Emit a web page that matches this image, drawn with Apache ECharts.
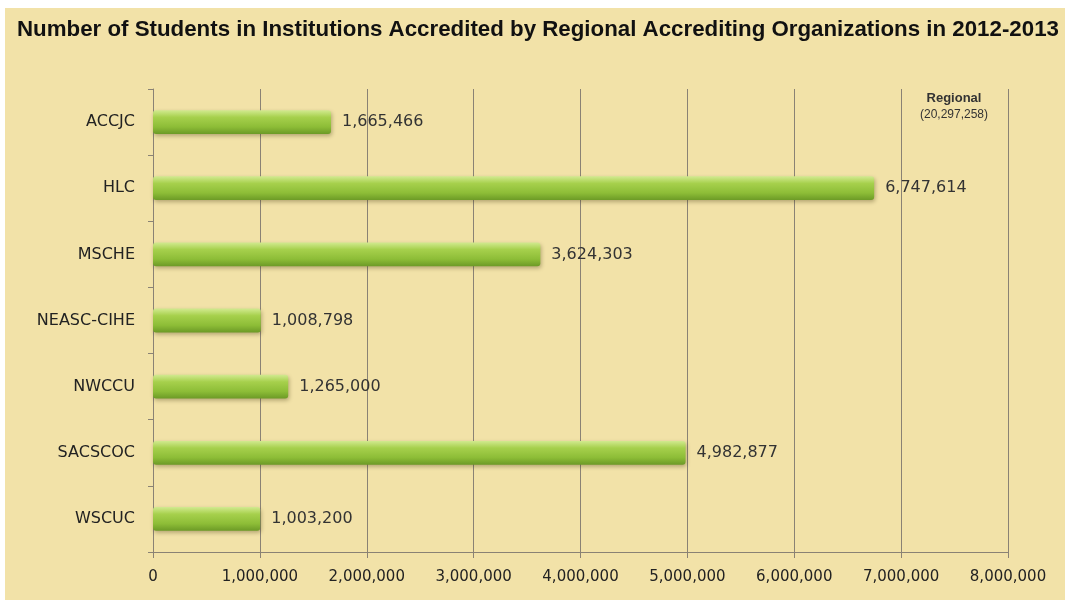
<!DOCTYPE html>
<html><head><meta charset="utf-8">
<script src="https://cdn.jsdelivr.net/npm/echarts@6/dist/echarts.min.js"></script>
<style>html,body{margin:0;padding:0;background:#fff}#c{width:1065px;height:600px}</style>
</head><body><div id="c"></div>
<script>
const titleText = 'Number of Students in Institutions Accredited by Regional Accrediting Organizations in 2012-2013';
const categories = ['ACCJC','HLC','MSCHE','NEASC-CIHE','NWCCU','SACSCOC','WSCUC'];
const students = [1665466, 6747614, 3624303, 1008798, 1265000, 4982877, 1003200];
const noteLines = ['Regional', '(20,297,258)'];
const axisMin = 0, axisMax = 8000000, axisStep = 1000000;

const fmt = v => Number(v).toLocaleString('en-US');
const chart = echarts.init(document.getElementById('c'), null, {renderer:'canvas'});
chart.setOption({
  backgroundColor: '#ffffff',
  animation: false,
  graphic: [
    {type:'rect', z:-10, shape:{x:5,y:8,width:1060,height:592}, style:{fill:'#f2e2a8'}},
    {type:'text', x:17, y:30, style:{text:titleText, font:'bold 22.3px "Liberation Sans", Arial, sans-serif', fill:'#111', verticalAlign:'middle'}},
    {type:'text', x:954, y:98, style:{text:noteLines[0], font:'bold 13px "Liberation Sans Narrow", "Liberation Sans", sans-serif', fill:'#333', align:'center', verticalAlign:'middle'}},
    {type:'text', x:954, y:115, style:{text:noteLines[1], font:'12px "Liberation Sans Narrow", "Liberation Sans", sans-serif', fill:'#333', align:'center', verticalAlign:'middle'}}
  ],
  grid: {left:153, right:57, top:89, bottom:48, containLabel:false},
  xAxis: {
    type:'value', min:axisMin, max:axisMax, interval:axisStep,
    axisLine:{show:true, lineStyle:{color:'#8a8274', width:1}},
    axisTick:{show:true, length:6, lineStyle:{color:'#8a8274'}},
    splitLine:{show:true, lineStyle:{color:'#8a8274', width:1}},
    axisLabel:{formatter:fmt, color:'#222', fontSize:15, fontFamily:'"DejaVu Sans", sans-serif', margin:18}
  },
  yAxis: {
    type:'category', data:categories, inverse:true,
    axisLine:{show:true, lineStyle:{color:'#8a8274', width:1}},
    axisTick:{show:true, length:5, lineStyle:{color:'#8a8274'}},
    axisLabel:{color:'#222', fontSize:16, fontFamily:'"DejaVu Sans", sans-serif', margin:18}
  },
  series: [{
    type:'bar', data:students, barCategoryGap:'64%',
    itemStyle:{
      borderRadius:3,
      color:new echarts.graphic.LinearGradient(0,0,0,1,[
        {offset:0, color:'#d2ea90'},
        {offset:0.3, color:'#a6d04c'},
        {offset:0.7, color:'#8dbd37'},
        {offset:1, color:'#6c9a26'}
      ]),
      shadowColor:'rgba(60,50,10,0.35)', shadowBlur:4, shadowOffsetX:1, shadowOffsetY:2
    },
    label:{show:true, position:'right', distance:11, formatter:p=>fmt(p.value), color:'#333', fontSize:16, fontFamily:'"DejaVu Sans", sans-serif'}
  }]
});
</script></body></html>
